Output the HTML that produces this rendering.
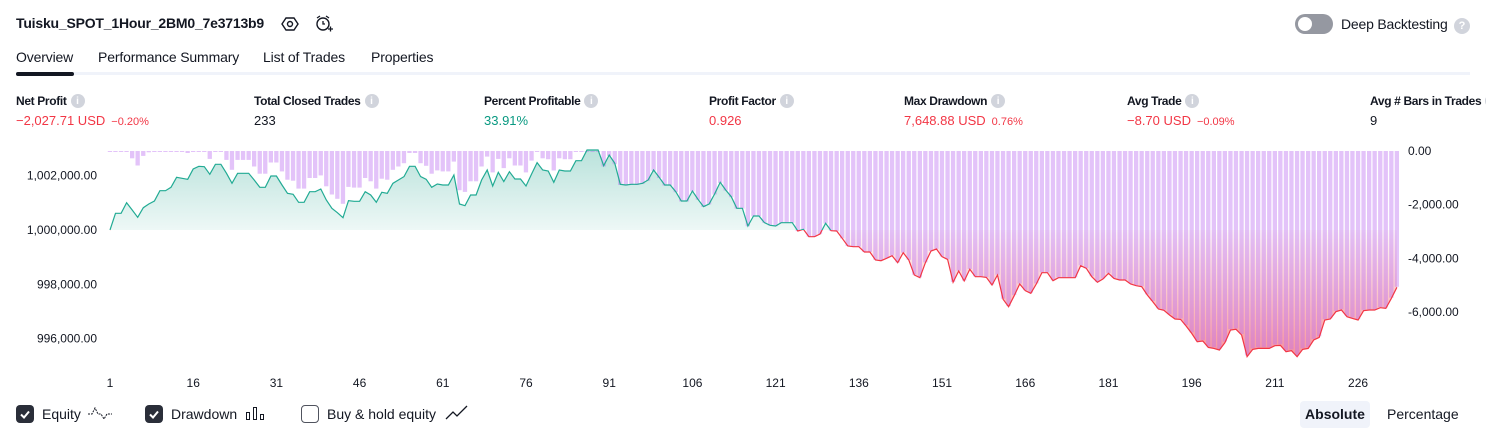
<!DOCTYPE html>
<html><head><meta charset="utf-8">
<style>
*{box-sizing:border-box;margin:0;padding:0}
body{width:1486px;height:438px;background:#fff;font-family:"Liberation Sans",sans-serif;color:#131722;position:relative;overflow:hidden}
.abs{position:absolute;white-space:nowrap}
.title{left:16px;top:15px;font-size:14px;font-weight:bold;letter-spacing:-0.2px}
.tab{top:49px;font-size:14px;color:#131722;letter-spacing:-0.15px}
.lbl{top:94px;font-size:12px;font-weight:bold;color:#131722;display:flex;align-items:center;gap:4px;letter-spacing:-0.35px}
.info{width:14px;height:14px;border-radius:50%;background:#d1d4dc;color:#fff;font-size:10px;display:inline-flex;align-items:center;justify-content:center;font-weight:bold;letter-spacing:0}
.val{top:113px;font-size:13px}
.red{color:#f23645}.grn{color:#089981}
.small{font-size:11px;margin-left:6px}
.cb{width:18px;height:18px;border-radius:4px;top:405px}
.cb.on{background:#2a2e39}
.cb.off{border:1.5px solid #50535e;background:#fff}
.leg{top:406px;font-size:14px}
</style></head><body>
<div class="abs title">Tuisku_SPOT_1Hour_2BM0_7e3713b9</div>
<svg class="abs" style="left:281px;top:15px" width="18" height="18"><polygon points="5,3 13,3 17,9 13,15 5,15 1,9" fill="none" stroke="#131722" stroke-width="1.4"/><circle cx="9" cy="9" r="2.5" fill="none" stroke="#131722" stroke-width="1.4"/></svg>
<svg class="abs" style="left:314px;top:13px" width="20" height="20"><circle cx="9" cy="11" r="6" fill="none" stroke="#131722" stroke-width="1.4"/><path d="M9 8v3h2M3 5l3-2M15 5l-3-2M14 16h5M16.5 13.5v5" stroke="#131722" stroke-width="1.3" fill="none"/></svg>
<div class="abs" style="left:1295px;top:14px;width:38px;height:20px;border-radius:10px;background:#9598a1"><div style="position:absolute;left:3px;top:3px;width:14px;height:14px;border-radius:50%;background:#fff"></div></div>
<div class="abs" style="left:1341px;top:16px;font-size:14px;letter-spacing:-0.2px">Deep Backtesting</div>
<div class="abs info" style="left:1454px;top:18px;width:16px;height:16px;font-size:11px">?</div>

<div class="abs tab" style="left:16px">Overview</div>
<div class="abs tab" style="left:98px">Performance Summary</div>
<div class="abs tab" style="left:263px">List of Trades</div>
<div class="abs tab" style="left:371px">Properties</div>
<div class="abs" style="left:16px;top:72px;width:1454px;height:3px;background:#f0f3fa"></div>
<div class="abs" style="left:16px;top:72px;width:58px;height:4px;border-radius:2px;background:#131722"></div>

<div class="abs lbl" style="left:16px">Net Profit <span class="info">i</span></div>
<div class="abs val red" style="left:16px">−2,027.71 USD<span class="small">−0.20%</span></div>
<div class="abs lbl" style="left:254px">Total Closed Trades <span class="info">i</span></div>
<div class="abs val" style="left:254px">233</div>
<div class="abs lbl" style="left:484px">Percent Profitable <span class="info">i</span></div>
<div class="abs val grn" style="left:484px">33.91%</div>
<div class="abs lbl" style="left:709px">Profit Factor <span class="info">i</span></div>
<div class="abs val red" style="left:709px">0.926</div>
<div class="abs lbl" style="left:904px">Max Drawdown <span class="info">i</span></div>
<div class="abs val red" style="left:904px">7,648.88 USD<span class="small">0.76%</span></div>
<div class="abs lbl" style="left:1127px">Avg Trade <span class="info">i</span></div>
<div class="abs val red" style="left:1127px">−8.70 USD<span class="small">−0.09%</span></div>
<div class="abs lbl" style="left:1370px">Avg # Bars in Trades <span class="info">i</span></div>
<div class="abs val" style="left:1370px">9</div>

<svg id="chart" class="abs" style="left:0;top:0" width="1486" height="400"></svg>

<div class="abs cb on" style="left:16px"><svg width="18" height="18"><path d="M5 9.5l3 3 5-6" stroke="#fff" stroke-width="2" fill="none"/></svg></div>
<div class="abs leg" style="left:42px">Equity</div>
<svg class="abs" style="left:87px;top:404px" width="26" height="18"><path d="M1 10h4l3-6 3 6 3 0 3 5 3-5h5" stroke="#131722" stroke-width="1" fill="none" stroke-dasharray="2 1"/></svg>
<div class="abs cb on" style="left:145px"><svg width="18" height="18"><path d="M5 9.5l3 3 5-6" stroke="#fff" stroke-width="2" fill="none"/></svg></div>
<div class="abs leg" style="left:171px">Drawdown</div>
<svg class="abs" style="left:245px;top:405px" width="22" height="16"><rect x="1.5" y="7.5" width="3" height="7" fill="none" stroke="#131722"/><rect x="8.5" y="2.5" width="3" height="12" fill="none" stroke="#131722"/><rect x="15.5" y="9.5" width="3" height="5" fill="none" stroke="#131722"/></svg>
<div class="abs cb off" style="left:301px"></div>
<div class="abs leg" style="left:327px">Buy &amp; hold equity</div>
<svg class="abs" style="left:445px;top:404px" width="24" height="18"><path d="M1 15l7-7 4 4 10-10" stroke="#131722" stroke-width="1.3" fill="none"/></svg>
<div class="abs" style="left:1300px;top:401px;width:70px;height:27px;border-radius:4px;background:#f0f3fa;font-size:14px;font-weight:bold;text-align:center;line-height:27px">Absolute</div>
<div class="abs" style="left:1387px;top:401px;font-size:14px;line-height:27px">Percentage</div>

<script>
const equity=[0,614,614,1007,737,467,823,958,1068,1449,1449,1572,1940,1903,1867,2247,2345,2333,2051,2419,2419,2088,1719,2088,2088,2088,1842,1572,1572,1989,1989,1658,1351,1314,1019,1019,1412,1412,1510,1105,798,639,454,1081,1056,1056,1412,1289,1019,1388,1351,1719,1842,1965,2345,2345,1965,1867,1572,1695,1658,1658,2026,958,896,1289,1289,1842,2210,1621,2124,1781,2149,1879,1879,1621,2063,2481,2210,2174,1756,2210,2174,2174,2554,2554,2947,2947,2947,2370,2763,2456,1682,1658,1682,1682,1719,1842,2210,1940,1658,1658,1412,1068,1068,1437,1130,860,958,1326,1756,1474,1228,798,798,147,516,516,270,172,147,270,270,270,-37,25,-246,-246,-147,246,-25,-37,-307,-589,-614,-614,-810,-810,-1105,-1130,-1044,-946,-1203,-835,-1105,-1658,-1756,-1203,-774,-700,-982,-1081,-1928,-1510,-1879,-1449,-1719,-1719,-1744,-2026,-1658,-2554,-2824,-2419,-1989,-2235,-2333,-1989,-1572,-1572,-1867,-1756,-1756,-1756,-1756,-1314,-1412,-1719,-1928,-1805,-1596,-1781,-1842,-1842,-1989,-2051,-2088,-2395,-2640,-2910,-2959,-3131,-3279,-3291,-3537,-3807,-4114,-4089,-4323,-4359,-4421,-4151,-3684,-3659,-3868,-4666,-4396,-4359,-4359,-4359,-4261,-4249,-4482,-4445,-4666,-4396,-4359,-4052,-3954,-3316,-3279,-3009,-2947,-3193,-3254,-3316,-2972,-2947,-2947,-2861,-2886,-2517,-2112];
const initialCapital=1000000;
const leftTicks=[1002000,1000000,998000,996000];
const leftTickLabels=["1,002,000.00","1,000,000.00","998,000.00","996,000.00"];
const rightTicks=[0,-2000,-4000,-6000];
const rightTickLabels=["0.00","-2,000.00","-4,000.00","-6,000.00"];
const xTicks=[1,16,31,46,61,76,91,106,121,136,151,166,181,196,211,226];

const NS="http://www.w3.org/2000/svg";
const svg=document.getElementById('chart');
const xS=i=>110+(i-1)*5.547;
const yL=v=>230-(v-initialCapital)/36.83;
const yR=v=>151-v/37.24;
function mk(tag,attrs,parent){const e=document.createElementNS(NS,tag);for(const k in attrs)e.setAttribute(k,attrs[k]);(parent||svg).appendChild(e);return e;}
const defs=mk('defs',{});
defs.innerHTML='<linearGradient id="gg" x1="0" y1="150" x2="0" y2="230" gradientUnits="userSpaceOnUse"><stop offset="0" stop-color="#089981" stop-opacity="0.28"/><stop offset="1" stop-color="#089981" stop-opacity="0.07"/></linearGradient><linearGradient id="rg" x1="0" y1="230" x2="0" y2="360" gradientUnits="userSpaceOnUse"><stop offset="0" stop-color="#f23645" stop-opacity="0.03"/><stop offset="1" stop-color="#f23645" stop-opacity="0.55"/></linearGradient><clipPath id="ca"><rect x="0" y="0" width="1486" height="230"/></clipPath><clipPath id="cb"><rect x="0" y="230" width="1486" height="200"/></clipPath>';
const base=yL(initialCapital);
let pts=equity.map((v,i)=>xS(i+1).toFixed(1)+','+yL(initialCapital+v).toFixed(1)).join(' ');
let area='M'+xS(1)+','+base+' L'+pts+' L'+xS(equity.length)+','+base+'Z';
const ga=mk('path',{d:area,fill:'url(#gg)','clip-path':'url(#ca)'});

const ra=mk('path',{d:area,fill:'url(#rg)','clip-path':'url(#cb)'});

let peak=-Infinity;
equity.forEach((v,i)=>{peak=Math.max(peak,v);const dd=v-peak;const y0=yR(0),y1=yR(dd);
 const r=mk('rect',{x:(xS(i+1)-2.2).toFixed(1),y:y0,width:4.3,height:Math.max(1,y1-y0).toFixed(1),fill:'#ba68f0','fill-opacity':0.4});
 
 });
const gl=mk('polyline',{points:pts,fill:'none',stroke:'#22ab94','stroke-width':1.2,'clip-path':'url(#ca)'});

const rl=mk('polyline',{points:pts,fill:'none',stroke:'#f23645','stroke-width':1.2,'clip-path':'url(#cb)'});

leftTicks.forEach((v,i)=>{const t=mk('text',{x:97,y:yL(v)+4,'text-anchor':'end','font-size':12,fill:'#131722'});t.textContent=leftTickLabels[i];
 });
rightTicks.forEach((v,i)=>{const t=mk('text',{x:1408,y:yR(v)+4,'font-size':12,fill:'#131722'});t.textContent=rightTickLabels[i];
 });
xTicks.forEach(v=>{const t=mk('text',{x:xS(v),y:387,'text-anchor':'middle','font-size':12,fill:'#131722'});t.textContent=v;
 });
</script>
</body></html>
